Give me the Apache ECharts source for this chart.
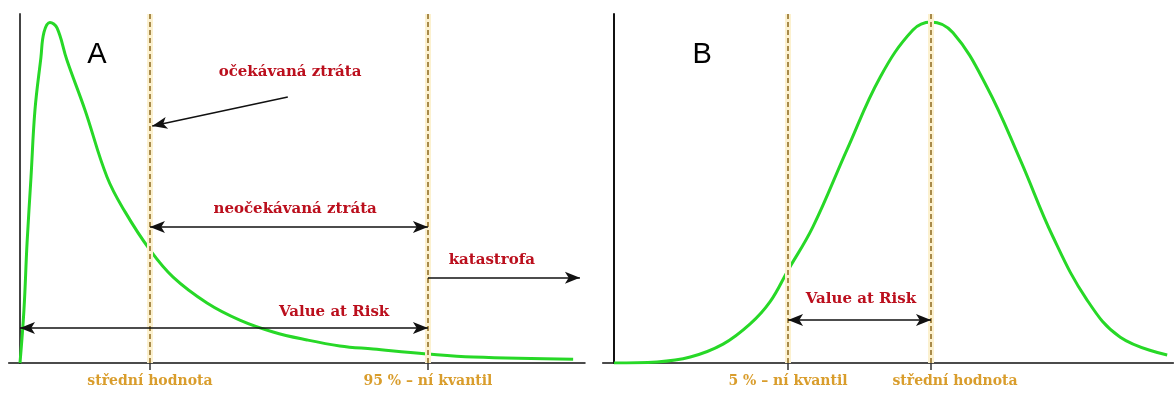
<!DOCTYPE html>
<html>
<head>
<meta charset="utf-8">
<script src="https://cdn.jsdelivr.net/npm/echarts@6/dist/echarts.min.js"></script>
<style>
html,body{margin:0;padding:0;background:#fff;}
#chart{width:1175px;height:394px;}
</style>
</head>
<body>
<div id="chart"></div>
<script>
// ---- Panel A: skewed loss distribution ----
const curveAX = [0, 0.7, 1.25, 1.95, 2.65, 3.7, 4.25, 5.3, 6.55, 8.3, 11.5, 15.4, 18.6, 23.0, 27.1, 33.1, 38.9, 44.8, 50.8, 56.6, 62.5, 72.0, 80.2, 97.9];
const curveAY = [0, 15.2, 34.4, 53.3, 72.5, 87.5, 94.8, 97.6, 96.0, 86.8, 72.5, 53.3, 43.3, 32.4, 24.6, 17.2, 12.3, 8.9, 6.6, 4.9, 4.0, 2.6, 1.7, 1.1];
const markersA = [23.0, 72.2];
const tickLabelsA = ['střední hodnota', '95 % – ní kvantil'];

// arrows A: [x1, y1, x2, y2, arrowAtStart, arrowAtEnd]
const arrowsA = [
  [47.4, 76.2, 23.4, 67.9, false, true],
  [23.0, 39.0, 72.2, 39.0, true, true],
  [72.2, 24.4, 99.1, 24.4, false, true],
  [0, 10.0, 72.2, 10.0, true, true]
];
const annotTextA = ['očekávaná ztráta', 'neočekávaná ztráta', 'katastrofa', 'Value at Risk'];
const annotXA = [47.8, 48.7, 83.5, 55.6];
const annotYA = [83.4, 44.1, 29.5, 14.6];
const panelTitleA = 'A';
const panelTitleAPos = [13.6, 88.3];

// ---- Panel B: normal-like value distribution ----
const curveBX = [0, 7.6, 13.5, 19.3, 24.1, 27.6, 30.8, 35.2, 41.2, 47.1, 52.9, 56.1, 60.0, 66.0, 71.9, 77.7, 83.7, 89.6, 97.9];
const curveBY = [0, 0.3, 1.7, 5.4, 11.2, 17.5, 26.6, 39.0, 61.0, 81.9, 95.4, 97.7, 94.6, 79.1, 58.2, 36.1, 18.1, 7.4, 2.3];
const markersB = [30.8, 56.1];
const tickLabelsB = ['5 % – ní kvantil', 'střední hodnota'];
const arrowsB = [
  [30.8, 12.3, 56.1, 12.3, true, true]
];
const annotTextB = ['Value at Risk'];
const annotXB = [43.7];
const annotYB = [18.3];
const panelTitleB = 'B';
const panelTitleBPos = [15.6, 88.3];

// ---- styles ----
const RED = '#bb0f1d';
const GOLD = '#d99d2c';
const GREEN = '#27d827';
const DASH = '#a88a4a';
const SERIF = '"DejaVu Serif", "Liberation Serif", serif';

function zip(xs, ys) { return xs.map((x, i) => [x, ys[i]]); }

function arrowLines(arr) {
  return arr.map(a => [
    { coord: [a[0], a[1]], symbol: a[4] ? 'arrow' : 'none', symbolSize: [9, 15] },
    { coord: [a[2], a[3]], symbol: a[5] ? 'arrow' : 'none', symbolSize: [9, 15] }
  ]);
}

function annotData(texts, xs, ys, title, titlePos) {
  const d = texts.map((t, i) => ({ name: t, value: [xs[i], ys[i]] }));
  d.push({
    name: title, value: titlePos,
    label: { fontFamily: '"Liberation Sans", Arial, sans-serif', fontWeight: 'normal', fontSize: 29, color: '#000' }
  });
  return d;
}

function xAxisFor(gi, min, max, markers, labels, offsetIdx) {
  return {
    type: 'value', gridIndex: gi, min: min, max: max,
    splitLine: { show: false },
    axisLine: { show: true, onZero: true, lineStyle: { color: '#111', width: 1.5 } },
    axisTick: { show: true, customValues: markers, length: 7, inside: false, lineStyle: { color: '#333', width: 1.5 } },
    axisLabel: {
      show: true, customValues: markers, margin: 11,
      fontFamily: SERIF, fontWeight: 'bold', fontSize: 14, color: GOLD,
      formatter: function (v) {
        let i = markers.findIndex(m => Math.abs(m - v) < 1e-6);
        if (i < 0) return '';
        if (i === offsetIdx) return '{off|' + labels[i] + '}';
        return labels[i];
      },
      rich: { off: { padding: [0, 0, 0, 48], fontFamily: SERIF, fontWeight: 'bold', fontSize: 14, color: GOLD } }
    }
  };
}

function yAxisFor(gi, color) {
  return {
    type: 'value', gridIndex: gi, min: 0, max: 100,
    splitLine: { show: false },
    axisTick: { show: false }, axisLabel: { show: false },
    axisLine: { show: true, onZero: true, lineStyle: { color: color, width: 2 } }
  };
}

function panelSeries(gi, curve, markers, arrows, annot) {
  return [
    {
      type: 'scatter', xAxisIndex: gi, yAxisIndex: gi, silent: true,
      symbolSize: 0, data: annot, z: 3,
      itemStyle: { opacity: 1 },
      label: { show: true, position: 'inside', formatter: '{b}', fontFamily: SERIF, fontWeight: 'bold', fontSize: 15, color: RED },
      markLine: {
        silent: true, animation: false, label: { show: false },
        symbol: ['none', 'none'],
        lineStyle: { color: '#fcf1cf', width: 6, type: 'solid' },
        data: markers.map(m => ({ xAxis: m }))
      }
    },
    {
      type: 'line', xAxisIndex: gi, yAxisIndex: gi, silent: true,
      data: curve, showSymbol: false, smooth: 0.4,
      lineStyle: { color: GREEN, width: 3 }, z: 4,
      markLine: {
        silent: true, animation: false, label: { show: false },
        symbol: ['none', 'none'],
        lineStyle: { color: DASH, width: 2, type: [5, 3] },
        data: markers.map(m => ({ xAxis: m }))
      }
    },
    {
      type: 'line', xAxisIndex: gi, yAxisIndex: gi, silent: true,
      data: [], z: 6,
      markLine: {
        silent: true, animation: false, label: { show: false },
        lineStyle: { color: '#111', width: 1.5, type: 'solid' },
        data: arrows
      }
    }
  ];
}

const chart = echarts.init(document.getElementById('chart'));
chart.setOption({
  animation: false,
  backgroundColor: '#fff',
  grid: [
    { left: 8.7, top: 14, width: 576.3, height: 349, outerBoundsMode: 'none', containLabel: false },
    { left: 602.7, top: 14, width: 570.7, height: 349, outerBoundsMode: 'none', containLabel: false }
  ],
  xAxis: [
    xAxisFor(0, -2, 100, markersA, tickLabelsA, -1),
    xAxisFor(1, -2, 99, markersB, tickLabelsB, 1)
  ],
  yAxis: [yAxisFor(0, '#444'), yAxisFor(1, '#111')],
  series: [].concat(
    panelSeries(0, zip(curveAX, curveAY), markersA, arrowLines(arrowsA),
      annotData(annotTextA, annotXA, annotYA, panelTitleA, panelTitleAPos)),
    panelSeries(1, zip(curveBX, curveBY), markersB, arrowLines(arrowsB),
      annotData(annotTextB, annotXB, annotYB, panelTitleB, panelTitleBPos))
  )
});
</script>
</body>
</html>
